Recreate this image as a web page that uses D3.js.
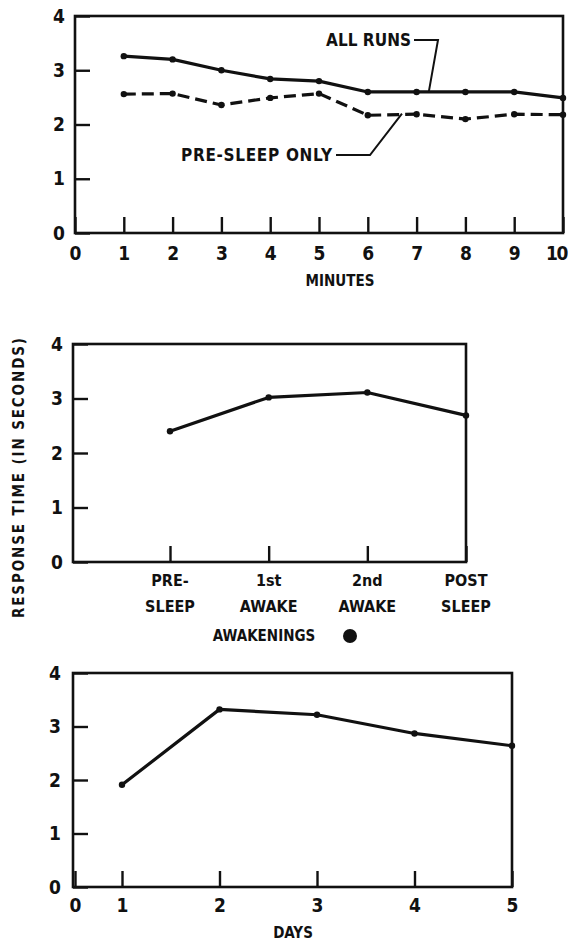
<!DOCTYPE html>
<html>
<head>
<meta charset="utf-8">
<script src="https://cdn.jsdelivr.net/npm/d3@7/dist/d3.min.js"></script>
<style>
  html, body { margin: 0; padding: 0; background: #fff; }
  svg text { font-family: "DejaVu Sans Condensed", "DejaVu Sans", sans-serif; font-weight: bold; fill: #111; }
</style>
</head>
<body>
<svg id="chart" width="568" height="950"></svg>
<script>
// ---------- data ----------
const minutes = [1, 2, 3, 4, 5, 6, 7, 8, 9, 10];
const allRuns = [3.26, 3.20, 3.00, 2.84, 2.80, 2.60, 2.60, 2.60, 2.60, 2.49];
const preSleepOnly = [2.56, 2.57, 2.36, 2.49, 2.57, 2.17, 2.19, 2.10, 2.19, 2.18];
const minuteTicks = [0, 1, 2, 3, 4, 5, 6, 7, 8, 9, 10];

const awakeCategories = ["PRE-SLEEP", "1st AWAKE", "2nd AWAKE", "POST SLEEP"];
const awakeLabelLines = [["PRE-", "SLEEP"], ["1st", "AWAKE"], ["2nd", "AWAKE"], ["POST", "SLEEP"]];
const awakeValues = [2.40, 3.02, 3.11, 2.69];

const days = [1, 2, 3, 4, 5];
const dayValues = [1.91, 3.32, 3.22, 2.87, 2.64];
const dayTicks = [0, 1, 2, 3, 4, 5];

const yTicks = [0, 1, 2, 3, 4];
const yTitle = "RESPONSE TIME (IN SECONDS)";

// ---------- drawing ----------
const svg = d3.select("#chart");
const ink = "#111";

function frame(g, x0, x1, y0, y1) {
  g.append("rect").attr("x", x0).attr("y", y0).attr("width", x1 - x0).attr("height", y1 - y0)
    .attr("fill", "none").attr("stroke", ink).attr("stroke-width", 2.6);
}
function yAxis(g, y, x0, pad) {
  const a = g.append("g").attr("transform", `translate(${x0},0)`)
    .call(d3.axisLeft(y).tickValues(yTicks).tickFormat(d3.format("d")).tickSizeInner(-15).tickSizeOuter(0).tickPadding(pad));
  a.select(".domain").remove();
  a.selectAll(".tick line").attr("stroke", ink).attr("stroke-width", 2.4);
  a.selectAll(".tick text").attr("font-size", 19).attr("fill", ink);
  return a;
}
function xAxis(g, x, y0, values, pad, fmt) {
  const a = g.append("g").attr("transform", `translate(0,${y0})`)
    .call(d3.axisBottom(x).tickValues(values).tickFormat(fmt).tickSizeInner(-16).tickSizeOuter(0).tickPadding(pad));
  a.select(".domain").remove();
  a.selectAll(".tick line").attr("stroke", ink).attr("stroke-width", 2.4);
  a.selectAll(".tick text").attr("font-size", 19).attr("fill", ink);
  return a;
}
function series(g, xs, ys, x, y, dash) {
  const pts = xs.map((d, i) => [d, ys[i]]);
  g.append("path").datum(pts)
    .attr("d", d3.line().x(d => x(d[0])).y(d => y(d[1])))
    .attr("fill", "none").attr("stroke", ink).attr("stroke-width", 3.2)
    .attr("stroke-linejoin", "round")
    .attr("stroke-dasharray", dash || null);
  g.selectAll(null).data(pts).enter().append("circle")
    .attr("cx", d => x(d[0])).attr("cy", d => y(d[1])).attr("r", 3.2).attr("fill", ink);
}

// ---------- panel 1: minutes ----------
{
  const g = svg.append("g");
  const x = d3.scaleLinear().domain([0, 10]).range([75, 563]);
  const y = d3.scaleLinear().domain([0, 4]).range([233, 16]);
  const xa = xAxis(g, x, 233, minuteTicks, 14, d3.format("d"));
  xa.selectAll(".tick text").filter(d => d === 10).attr("dx", -7).attr("letter-spacing", -1.5);
  yAxis(g, y, 75, 10);
  frame(g, 75, 563, 16, 233);
  series(g, minutes, allRuns, x, y, null);
  series(g, minutes, preSleepOnly, x, y, "12,6");

  g.append("text").attr("x", 326).attr("y", 40).attr("dy", "0.36em")
    .attr("font-size", 17).attr("textLength", 85).attr("lengthAdjust", "spacing").text("ALL RUNS");
  g.append("path").attr("fill", "none").attr("stroke", ink).attr("stroke-width", 2)
    .attr("d", d3.line()([[414, 40], [438, 40], [x(7.25), y(2.6)]]));

  g.append("text").attr("x", 181).attr("y", 155).attr("dy", "0.36em")
    .attr("font-size", 17).attr("textLength", 151).attr("lengthAdjust", "spacing").text("PRE-SLEEP ONLY");
  g.append("path").attr("fill", "none").attr("stroke", ink).attr("stroke-width", 2)
    .attr("d", d3.line()([[336, 155], [370, 155], [x(6.7), y(2.2)]]));

  g.append("text").attr("x", 340).attr("y", 281).attr("dy", "0.36em")
    .attr("text-anchor", "middle").attr("font-size", 15).text("MINUTES");
}

// ---------- panel 2: awakenings ----------
{
  const g = svg.append("g");
  const x = d3.scalePoint().domain(awakeCategories).range([170, 466]);
  const y = d3.scaleLinear().domain([0, 4]).range([562, 344]);
  const xa = xAxis(g, x, 562, awakeCategories, 10, () => "");
  xa.selectAll(".tick text").remove();
  yAxis(g, y, 73, 10);
  frame(g, 73, 466, 344, 562);
  series(g, awakeCategories, awakeValues, x, y, null);

  awakeCategories.forEach((c, i) => {
    awakeLabelLines[i].forEach((ln, j) => {
      g.append("text").attr("x", x(c)).attr("y", 580 + j * 26).attr("dy", "0.36em")
        .attr("text-anchor", "middle").attr("font-size", 16).text(ln);
    });
  });
  g.append("text").attr("x", 264).attr("y", 636).attr("dy", "0.36em")
    .attr("text-anchor", "middle").attr("font-size", 15).text("AWAKENINGS");
  g.append("circle").attr("cx", 350).attr("cy", 636).attr("r", 7).attr("fill", ink);

  g.append("text").attr("transform", "translate(19,478) rotate(-90)")
    .attr("dy", "0.36em").attr("text-anchor", "middle").attr("font-size", 15)
    .attr("textLength", 280).attr("lengthAdjust", "spacing").text(yTitle);
}

// ---------- panel 3: days ----------
{
  const g = svg.append("g");
  const x = d3.scaleLinear().domain([0, 1, 5]).range([75, 122, 512]);
  const y = d3.scaleLinear().domain([0, 4]).range([887, 673]);
  xAxis(g, x, 887, dayTicks, 12, d3.format("d"));
  yAxis(g, y, 73, 12);
  frame(g, 73, 512, 673, 887);
  series(g, days, dayValues, x, y, null);
  g.append("text").attr("x", 293).attr("y", 933).attr("dy", "0.36em")
    .attr("text-anchor", "middle").attr("font-size", 15).text("DAYS");
}
</script>
</body>
</html>
